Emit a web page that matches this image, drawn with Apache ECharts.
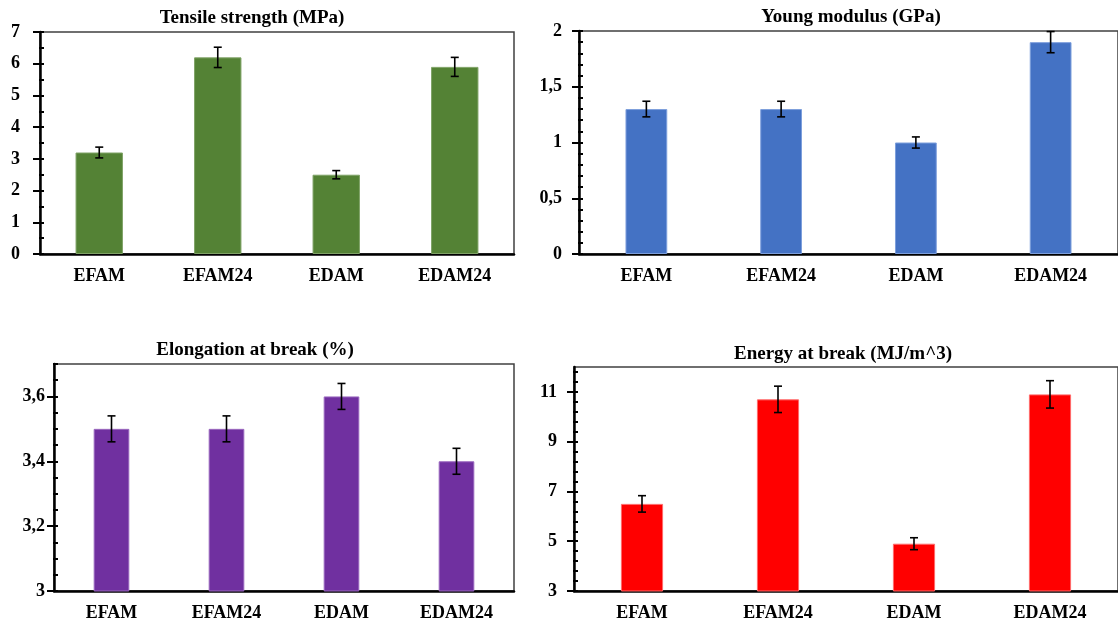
<!DOCTYPE html>
<html>
<head>
<meta charset="utf-8">
<script src="https://cdn.jsdelivr.net/npm/echarts@6/dist/echarts.min.js"></script>
<style>
  html, body { margin: 0; padding: 0; background: #fff; }
  #chart { width: 1118px; height: 625px; }
</style>
</head>
<body>
<div id="chart"></div>
<script>
// Mechanical properties of the four formulations
const categories = ['EFAM', 'EFAM24', 'EDAM', 'EDAM24'];

const tensileStrength = [3.2, 6.2, 2.5, 5.9];
const tensileErr = [0.17, 0.32, 0.13, 0.30];

const youngModulus = [1.3, 1.3, 1.0, 1.9];
const youngErr = [0.07, 0.07, 0.05, 0.095];

const elongation = [3.5, 3.5, 3.6, 3.4];
const elongationErr = [0.04, 0.04, 0.04, 0.04];

const energy = [6.5, 10.7, 4.9, 10.9];
const energyErr = [0.33, 0.53, 0.24, 0.55];

// Axis tick labels
const tensileTicks = [0, 1, 2, 3, 4, 5, 6, 7];
const youngTicks = [0, 0.5, 1, 1.5, 2];
const elongationTicks = [3, 3.2, 3.4, 3.6];
const energyTicks = [3, 5, 7, 9, 11];

const titles = ['Tensile strength (MPa)', 'Young modulus (GPa)', 'Elongation at break (%)', 'Energy at break (MJ/m^3)'];
const colors = ['#548235', '#4472C4', '#7030A0', '#FF0000'];
const edgeColors = ['#7fa266', '#7d9fdc', '#9a68bf', '#ff6a6a'];

const FONT = '"Liberation Serif", "Times New Roman", serif';
const INNER_TICK = 4;

// minor tick positions between min and max at a given step
function minorValues(min, max, step) {
  const out = [];
  const n = Math.round((max - min) / step);
  for (let i = 0; i <= n; i++) out.push(+(min + i * step).toFixed(4));
  return out;
}

const panels = [
  { values: tensileStrength, err: tensileErr, ticks: tensileTicks, min: 0, max: 7, minorStep: 0.5,
    grid: { left: 40, top: 32, width: 474, height: 222 }, barWidth: '40%', title: [247, 4], labelMargin: 20 },
  { values: youngModulus, err: youngErr, ticks: youngTicks, min: 0, max: 2, minorStep: 0.1,
    grid: { left: 579, top: 31, width: 547, height: 223 }, barWidth: '31%', title: [846, 3], labelMargin: 17 },
  { values: elongation, err: elongationErr, ticks: elongationTicks, min: 3, max: 3.7, minorStep: 0.05,
    grid: { left: 54, top: 364, width: 460, height: 227 }, barWidth: '31%', title: [250, 336], labelMargin: 9 },
  { values: energy, err: energyErr, ticks: energyTicks, min: 3, max: 12, minorStep: 0.4,
    grid: { left: 574, top: 367, width: 548, height: 224 }, barWidth: '31%', title: [838, 340], labelMargin: 17 }
];

const option = {
  animation: false,
  backgroundColor: '#ffffff',
  title: [],
  grid: [],
  xAxis: [],
  yAxis: [],
  series: []
};

panels.forEach((p, i) => {
  option.title.push({
    text: titles[i],
    left: p.title[0],
    top: p.title[1],
    textAlign: 'center',
    textStyle: { fontFamily: FONT, fontWeight: 'bold', fontSize: 19, color: '#000' }
  });
  option.grid.push(Object.assign({
    show: true, borderColor: '#404040', borderWidth: 1.5, backgroundColor: 'transparent'
  }, p.grid));
  option.xAxis.push({
    type: 'category',
    gridIndex: i,
    data: categories,
    axisLine: { lineStyle: { color: '#000', width: 2.5 } },
    axisTick: { show: false },
    axisLabel: { fontFamily: FONT, fontWeight: 'bold', fontSize: 18, color: '#000', margin: 13 },
    splitLine: { show: false }
  });
  // main value axis: line, outer half of the cross ticks, labels
  option.yAxis.push({
    type: 'value',
    gridIndex: i,
    position: 'left',
    min: p.min,
    max: p.max,
    axisLine: { show: true, lineStyle: { color: '#000', width: 2.5 } },
    axisTick: { show: true, inside: false, length: 7, customValues: p.ticks, lineStyle: { color: '#000', width: 2 } },
    axisLabel: {
      customValues: p.ticks,
      fontFamily: FONT, fontWeight: 'bold', fontSize: 18, color: '#000', margin: p.labelMargin,
      formatter: v => String(v).replace('.', ',')
    },
    splitLine: { show: false },
    z: 3
  });
  // helper axis shifted into the plot: its ticks end on the axis line,
  // giving short inner ticks at every major and minor step
  option.yAxis.push({
    type: 'value',
    gridIndex: i,
    position: 'left',
    offset: -INNER_TICK,
    min: p.min,
    max: p.max,
    axisLine: { show: false },
    axisTick: { show: true, inside: false, length: INNER_TICK + 1, customValues: minorValues(p.min, p.max, p.minorStep), lineStyle: { color: '#000', width: 2 } },
    axisLabel: { show: false },
    splitLine: { show: false },
    z: 3
  });
  option.series.push({
    type: 'bar',
    xAxisIndex: i,
    yAxisIndex: 2 * i,
    data: p.values,
    barWidth: p.barWidth,
    itemStyle: { color: colors[i], borderColor: edgeColors[i], borderWidth: 1 },
    z: 2
  });
  option.series.push({
    type: 'custom',
    xAxisIndex: i,
    yAxisIndex: 2 * i,
    data: p.values.map((v, k) => [k, v - p.err[k], v + p.err[k]]),
    z: 5,
    renderItem: (params, api) => {
      const lo = api.coord([api.value(0), api.value(1)]);
      const hi = api.coord([api.value(0), api.value(2)]);
      const cap = 4;
      const style = { stroke: '#000', lineWidth: 1.6 };
      return {
        type: 'group',
        children: [
          { type: 'line', shape: { x1: lo[0], y1: lo[1], x2: hi[0], y2: hi[1] }, style },
          { type: 'line', shape: { x1: lo[0] - cap, y1: lo[1], x2: lo[0] + cap, y2: lo[1] }, style },
          { type: 'line', shape: { x1: hi[0] - cap, y1: hi[1], x2: hi[0] + cap, y2: hi[1] }, style }
        ]
      };
    }
  });
});

const chart = echarts.init(document.getElementById('chart'), null, { renderer: 'canvas' });
chart.setOption(option);
</script>
</body>
</html>
